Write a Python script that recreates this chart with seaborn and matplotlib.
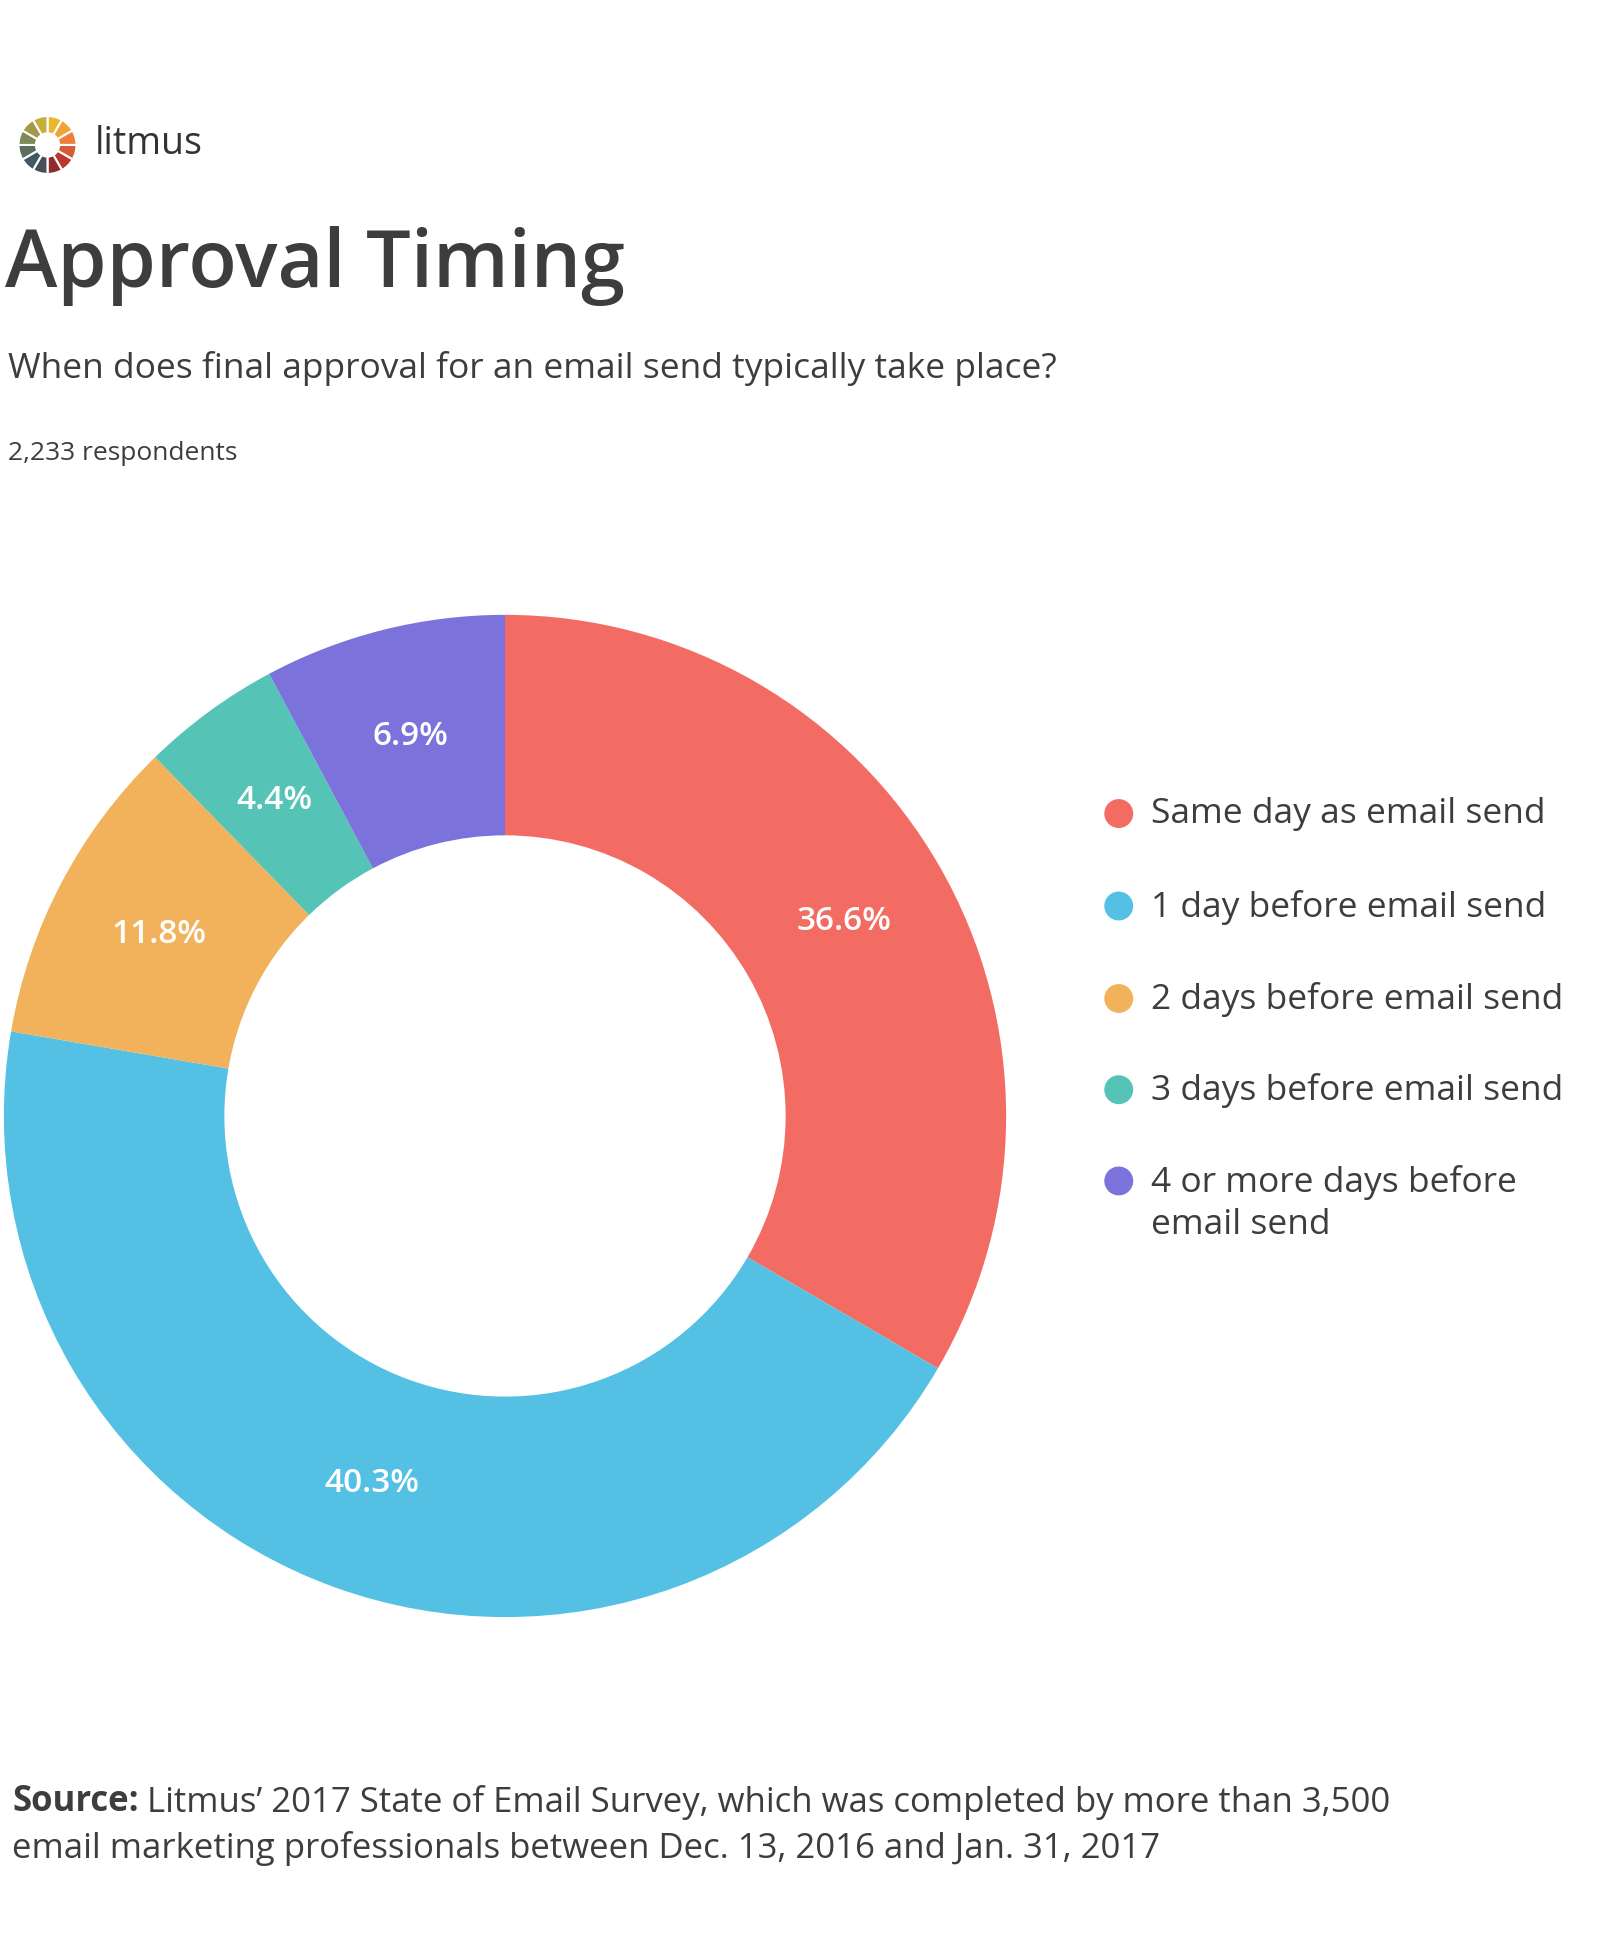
import matplotlib
matplotlib.use("Agg")
import matplotlib.pyplot as plt
from matplotlib.patches import Ellipse
import seaborn as sns
import numpy as np

categories = ["Same day as email send", "1 day before email send", "2 days before email send",
              "3 days before email send", "4 or more days before\nemail send"]
# wedge shares as drawn in the picture
shares = [33.4, 44.3, 10.0, 4.5, 7.8]
pct_labels = ["36.6%", "40.3%", "11.8%", "4.4%", "6.9%"]
colors = ["#F26C64", "#54C1E4", "#F2B25C", "#55C4B6", "#7B73DB"]
logo_colors = ["#E8B730", "#F0A33A", "#EE7F3A", "#D95B35", "#B8382F", "#8E2B2B",
               "#4A4E58", "#3E5A63", "#5B6E60", "#7E8A57", "#A39A47", "#C7AE3A"]

sns.set_theme(style="white")
plt.rcParams["font.family"] = "Open Sans"
TXT = "#3d3d3d"
W, H = 1600, 1957
fig = plt.figure(figsize=(16, 19.57), dpi=100)

def fx(x): return x / 1280
def fy(y): return 1 - y / 1566

# logo
lax = fig.add_axes([fx(9), fy(145), fx(58), 58 / 1566])
lax.pie([1]*12, colors=logo_colors, startangle=90, counterclock=False,
        wedgeprops=dict(width=0.6, edgecolor="white", linewidth=1.5))
lax.set_aspect("equal")
fig.text(fx(76), fy(115), "litmus", fontsize=27, color="#333333", va="center", ha="left")

fig.text(fx(4), fy(213), "Approval Timing", fontsize=57, fontweight="semibold", color=TXT, va="center")
fig.text(fx(6), fy(295), "When does final approval for an email send typically take place?",
         fontsize=25.5, color=TXT, va="center")
fig.text(fx(6), fy(363), "2,233 respondents", fontsize=19, color=TXT, va="center")

ax = fig.add_axes([fx(3), (1566 - 893 - 401) / 1566, fx(802), 802 / 1566])
wedges, _ = ax.pie(shares, colors=colors, startangle=90, counterclock=False,
                   wedgeprops=dict(width=0.44, edgecolor="none"))
for w, lab in zip(wedges, pct_labels):
    ang = np.deg2rad((w.theta1 + w.theta2) / 2)
    ax.text(0.78*np.cos(ang), 0.78*np.sin(ang), lab, ha="center", va="center",
            color="white", fontsize=24, fontweight="semibold")
ax.set_xlim(-1, 1); ax.set_ylim(-1, 1); ax.set_aspect("equal")

ys = [651, 725, 799, 872, 945]
for y, c, lab in zip(ys, colors, categories):
    fig.patches.append(Ellipse((fx(895), fy(y)), 2*11/1280, 2*11/1566, color=c,
                               transform=fig.transFigure, figure=fig))
    fig.text(fx(921), fy(y - 13), lab, fontsize=25.5, color=TXT, va="top", ha="left",
             linespacing=1.3)

src = fig.text(fx(10), fy(1442), "Source:", fontsize=25, fontweight="bold", color=TXT, va="center")
r = fig.canvas.get_renderer()
bb = src.get_window_extent(renderer=r)
fig.text(bb.x1 / W + 0.005, fy(1442), "Litmus’ 2017 State of Email Survey, which was completed by more than 3,500",
         fontsize=25, color=TXT, va="center")
fig.text(fx(10), fy(1479), "email marketing professionals between Dec. 13, 2016 and Jan. 31, 2017",
         fontsize=25, color=TXT, va="center")

fig.savefig("out.png", dpi=100, facecolor="white")
